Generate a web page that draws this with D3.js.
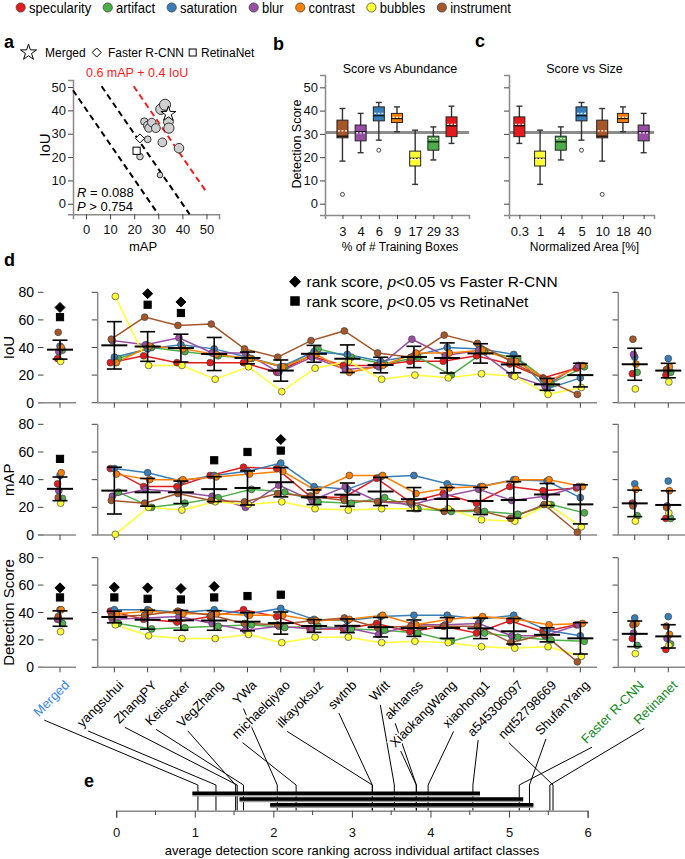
<!DOCTYPE html>
<html>
<head>
<meta charset="utf-8">
<script src="https://cdn.jsdelivr.net/npm/d3@7"></script>
<style>
  body { margin: 0; background: #fff; }
  svg { display: block; font-family: "Liberation Sans", Arial, Helvetica, sans-serif; }
</style>
</head>
<body>
<div id="chart"></div>
<script>
// ---------- data ----------
var classes = ["specularity", "artifact", "saturation", "blur", "contrast", "bubbles", "instrument"];
var classColors = ["#e41a1c", "#4daf4a", "#377eb8", "#984ea3", "#ff7f00", "#ffff33", "#a65628"];

var teams = ["yangsuhui", "ZhangPY", "Keisecker", "VegZhang", "YWa", "michaelqiyao", "ilkayoksuz",
  "swtnb", "Witt", "akhanss", "XiaokangWang", "xiaohong1", "a545306097", "nqt52798669", "ShufanYang"];
var baselines = ["Faster R-CNN", "Retinanet"];

// panel a: team mAP / IoU / detection score
var aMap   = [32.8, 31.1, 34.2, 34.4, 38.6, 31.7, 29.0, 27.3, 26.1, 24.2, 25.6, 25.6, 22.4, 30.7, 31.8];
var aIou   = [42.4, 40.5, 35.2, 32.4, 23.8, 26.3, 32.4, 34.8, 32.4, 35.2, 33.5, 27.6, 20.2, 12.3, 41.2];
var aScore = [36.7, 35.0, 33.3, 34.3, 32.3, 30.1, 30.3, 29.3, 28.7, 26.3, 28.6, 24.5, 23.7, 21.1, 34.6];
var aMerged = [34.2, 38.5];
var aFaster = [22.4, 28.0];
var aRetina = [21.0, 22.7];
var aLevels = [16.2, 24, 32];   // 0.6 mAP + 0.4 IoU = const

// panels b, c: detection score per class (same order as classes)
var abundanceLabels = ["3", "4", "6", "9", "17", "29", "33"];
var abundanceClass  = ["instrument", "blur", "saturation", "contrast", "bubbles", "artifact", "specularity"];
var sizeLabels = ["0.3", "1", "4", "5", "10", "18", "40"];
var sizeClass  = ["specularity", "bubbles", "artifact", "saturation", "instrument", "contrast", "blur"];
var boxLow  = [25.9, 18.8, 27.3, 21.9, 30.9, 8.3, 18.3];
var boxQ1   = [28.8, 23.0, 35.6, 27.0, 34.9, 16.2, 28.3];
var boxMed  = [33.5, 26.6, 37.8, 30.9, 36.6, 19.5, 29.0];
var boxQ3   = [37.3, 29.0, 41.6, 33.8, 38.8, 22.6, 35.9];
var boxHigh = [41.9, 33.0, 43.5, 38.8, 41.6, 31.6, 40.9];
var boxMean = [34.1, 28.0, 38.8, 30.4, 37.1, 19.2, 31.3];
var boxOut  = [[], [], [23], [], [], [], [4]];
var overallScore = 30.6;

// panel d: rows = classes, columns = teams
var iouVals = [
  [29, 34, 29, 29, 29, 22, 34, 27, 27, 30, 30, 34, 28, 18, 25],
  [32, 40, 37, 34, 32, 26, 39, 33, 28, 33, 20, 37, 32, 14, 26],
  [33, 39, 42, 39, 33, 26, 37, 35, 30, 34, 40, 39, 35, 10, 18],
  [45, 42, 47, 36, 36, 22, 33, 24, 26, 46, 34, 38, 20, 12, 27],
  [29, 41, 39, 35, 32, 26, 35, 22, 27, 36, 36, 38, 30, 16, 27],
  [77, 27, 27, 17, 26, 8, 25, 30, 17, 20, 18, 21, 19, 6, 11],
  [46, 62, 56, 57, 39, 33, 45, 52, 36, 33, 49, 43, 30, 17, 6]
];
var mapVals = [
  [48, 35, 35, 43, 49, 48, 28, 27, 41, 24, 30, 23, 35, 32, 34],
  [31, 20, 23, 27, 33, 31, 24, 23, 27, 19, 17, 17, 15, 22, 16],
  [48, 45, 39, 43, 46, 52, 35, 33, 42, 43, 37, 35, 40, 39, 27],
  [28, 33, 31, 28, 20, 36, 25, 35, 24, 22, 28, 33, 25, 28, 35],
  [44, 40, 40, 42, 44, 46, 32, 43, 43, 30, 34, 35, 40, 40, 35],
  [0.5, 20, 18, 24, 22, 24, 19, 18, 19, 19, 19, 11, 10, 22, 6],
  [25, 23, 30, 25, 24, 30, 28, 25, 24, 24, 17, 18, 12, 22, 2]
];
var scoreVals = [
  [41, 35, 33, 37, 42, 37, 28, 28, 32, 26, 30, 25, 34, 26, 31],
  [32, 28, 29, 30, 31, 29, 30, 28, 27, 25, 19, 25, 22, 20, 19],
  [42, 42, 40, 42, 39, 43, 35, 34, 37, 38, 38, 35, 38, 27, 23],
  [35, 36, 37, 32, 27, 30, 28, 29, 24, 31, 31, 32, 23, 23, 31],
  [39, 41, 39, 39, 38, 38, 34, 35, 38, 31, 35, 37, 35, 31, 32],
  [31, 23, 21, 21, 24, 18, 22, 22, 18, 19, 18, 15, 14, 15, 8],
  [37, 38, 41, 38, 32, 31, 34, 36, 29, 30, 30, 30, 18, 24, 4]
];
var iouMerged = [32, 38, 41, 37, 40, 30, 51];
var iouFaster = [21, 22, 33, 35, 28, 10, 46];
var iouRetina = [20, 22, 32, 24, 26, 15, 24];
var mapMerged = [37, 26.5, 43, 32, 45, 23, 27];
var mapFaster = [23, 14, 37, 22, 33, 10, 21];
var mapRetina = [12, 12, 39, 21, 32, 16, 20];
var scoreMerged = [35, 32, 42, 35, 42, 26, 37];
var scoreFaster = [21, 16, 36, 25, 32, 10, 31];
var scoreRetina = [13, 17, 37, 21, 24, 16, 30];

// rank-score significance markers (value = height drawn), index -1 = Merged
var iouVsFaster   = [[-1, 69], [1, 79], [2, 73]];
var iouVsRetina   = [[-1, 62], [1, 71], [2, 65]];
var mapVsFaster   = [[5, 69]];
var mapVsRetina   = [[-1, 55], [3, 54], [4, 60], [5, 61]];
var scoreVsFaster = [[-1, 58], [0, 58.5], [1, 58], [2, 57.5], [3, 59]];
var scoreVsRetina = [[-1, 51], [0, 51], [1, 50], [2, 49.5], [3, 51], [4, 52], [5, 53]];

// panel e: average ranking (Merged, teams..., baselines)
var eRanks = [1.04, 1.27, 1.54, 1.62, 1.52, 2.05, 2.29, 3.26, 3.26, 3.54, 3.82, 3.82, 3.97, 4.54, 5.56, 5.26, 5.13, 5.52];
var eBarStart = [0.97, 1.57, 1.96];
var eBarEnd   = [4.63, 5.18, 5.31];

// ---------- drawing ----------
var W = 685, H = 859;
var svg = d3.select("#chart").append("svg").attr("width", W).attr("height", H);
var axisGray = "#8a8a8a";

function styleAxis(g, fs) {
  g.select(".domain").attr("stroke", axisGray).attr("stroke-width", 1.5);
  g.selectAll(".tick line").attr("stroke", "#444");
  g.selectAll(".tick text").attr("fill", "#111").style("font-size", fs + "px")
    .style("font-family", '"Liberation Sans", Arial, sans-serif');
}

function panelLetter(t, x, y) {
  svg.append("text").attr("x", x).attr("y", y).text(t)
    .style("font-size", "18px").style("font-weight", "bold");
}

// top legend (slightly condensed type, as in the original figure)
var leg = svg.append("g");
var lx = 20.7, squeeze = 0.93;
classes.forEach(function(c, i) {
  leg.append("circle").attr("cx", lx).attr("cy", 7.5).attr("r", 4.6)
    .attr("fill", classColors[i]).attr("stroke", "#444").attr("stroke-width", 0.8);
  var t = leg.append("text").attr("transform", "translate(" + (lx + 8.3) + ",12.5) scale(" + squeeze + ",1)")
    .text(c).style("font-size", "14px");
  lx = lx + 8.3 + t.node().getComputedTextLength() * squeeze + 16.6;
});

// ---------- panel a ----------
panelLetter("a", 4, 48);
var ax = d3.scaleLinear().domain([-5.4, 55.2]).range([73, 219]);
var ay = d3.scaleLinear().domain([-4.5, 53]).range([214.3, 80]);
var ga = svg.append("g");
ga.append("g").attr("transform", "translate(0,214.3)")
  .call(d3.axisBottom(ax).tickValues([0, 10, 20, 30, 40, 50]).tickSizeOuter(0).tickSize(5).tickPadding(5))
  .call(styleAxis, 13);
ga.append("g").attr("transform", "translate(73,0)")
  .call(d3.axisLeft(ay).tickValues([0, 10, 20, 30, 40, 50]).tickSizeOuter(0).tickSize(5).tickPadding(2))
  .call(styleAxis, 13);
ga.append("text").attr("x", 143).attr("y", 251).attr("text-anchor", "middle").text("mAP").style("font-size", "13px");
ga.append("text").attr("transform", "translate(50,145) rotate(-90)").attr("text-anchor", "middle")
  .text("IoU").style("font-size", "15px");

function levelSegment(c) {
  var x0 = -5.4, x1 = 50, y0 = -4.5, y1 = 50.3, pts = [];
  [[x0, (c - 0.6 * x0) / 0.4], [x1, (c - 0.6 * x1) / 0.4],
   [(c - 0.4 * y0) / 0.6, y0], [(c - 0.4 * y1) / 0.6, y1]].forEach(function(p) {
    if (p[0] >= x0 - 1e-6 && p[0] <= x1 + 1e-6 && p[1] >= y0 - 1e-6 && p[1] <= y1 + 1e-6) pts.push(p);
  });
  pts.sort(function(a, b) { return a[0] - b[0]; });
  return [pts[0], pts[pts.length - 1]];
}
aLevels.forEach(function(c, i) {
  var s = levelSegment(c);
  ga.append("line").attr("x1", ax(s[0][0])).attr("y1", ay(s[0][1]))
    .attr("x2", ax(s[1][0])).attr("y2", ay(s[1][1]))
    .attr("stroke", i == 2 ? "#ff1a1a" : "#000").attr("stroke-width", 2).attr("stroke-dasharray", "6,4");
});
ga.append("text").attr("x", 86).attr("y", 77).text("0.6 mAP + 0.4 IoU")
  .attr("fill", "#ff1a1a").style("font-size", "12.5px");

var ar = d3.scaleLinear().domain([20, 37]).range([2.6, 5.6]);
var aIdx = d3.range(aMap.length).sort(function(a, b) { return aScore[a] - aScore[b]; });
ga.selectAll("circle.team").data(aIdx).enter().append("circle")
  .attr("cx", function(i) { return ax(aMap[i]); })
  .attr("cy", function(i) { return ay(aIou[i]); })
  .attr("r", function(i) { return ar(aScore[i]); })
  .attr("fill", "#cfcfcf").attr("stroke", "#333").attr("stroke-width", 1);

function star(g, size, x, y) {
  g.append("path").attr("d", d3.symbol().type(d3.symbolStar).size(size)())
    .attr("transform", "translate(" + x + "," + y + ")")
    .attr("fill", "#fff").attr("stroke", "#000").attr("stroke-width", 1);
}
function diamond(g, s, x, y, fill) {
  g.append("path").attr("d", "M0," + (-s) + "L" + s + ",0L0," + s + "L" + (-s) + ",0Z")
    .attr("transform", "translate(" + x + "," + y + ")")
    .attr("fill", fill).attr("stroke", "#000").attr("stroke-width", 1);
}
function square(g, s, x, y, fill) {
  g.append("rect").attr("x", x - s).attr("y", y - s).attr("width", 2 * s).attr("height", 2 * s)
    .attr("fill", fill).attr("stroke", "#000").attr("stroke-width", 1);
}
star(ga, 70, ax(aMerged[0]), ay(aMerged[1]));
diamond(ga, 4.5, ax(aFaster[0]), ay(aFaster[1]), "#fff");
square(ga, 3.6, ax(aRetina[0]), ay(aRetina[1]), "#fff");

ga.append("text").attr("x", 77).attr("y", 197).style("font-size", "13px")
  .html('<tspan font-style="italic">R</tspan> = 0.088');
ga.append("text").attr("x", 77).attr("y", 211).style("font-size", "13px")
  .html('<tspan font-style="italic">P</tspan> &gt; 0.754');

// panel a legend
star(ga, 80, 28.5, 52.5);
ga.append("text").attr("x", 45).attr("y", 57).text("Merged").style("font-size", "12px");
diamond(ga, 4.5, 96.7, 52.5, "#fff");
ga.append("text").attr("x", 108).attr("y", 57).text("Faster R-CNN").style("font-size", "12px");
square(ga, 3.5, 192.7, 52.5, "#fff");
ga.append("text").attr("x", 201).attr("y", 57).text("RetinaNet").style("font-size", "12px");

// ---------- panels b, c ----------
var by = d3.scaleLinear().domain([-4.85, 55.3]).range([215, 75]);

function boxPanel(x0, x1, pad, labels, cls, title, xtitle, showLabels) {
  var g = svg.append("g");
  var bx = d3.scalePoint().domain(labels).range([x0, x1]).padding(pad);
  g.append("g").attr("transform", "translate(0,215)")
    .call(d3.axisBottom(bx).tickSizeOuter(0).tickSize(4).tickPadding(8)).call(styleAxis, 13);
  var ya = g.append("g").attr("transform", "translate(" + x0 + ",0)")
    .call(d3.axisLeft(by).tickValues([0, 10, 20, 30, 40, 50]).tickSizeOuter(0).tickSize(5).tickPadding(2))
    .call(styleAxis, 13);
  if (!showLabels) ya.selectAll(".tick text").remove();
  g.append("line").attr("x1", x0).attr("x2", x1).attr("y1", by(overallScore)).attr("y2", by(overallScore))
    .attr("stroke", "#8c8c8c").attr("stroke-width", 3.2);
  labels.forEach(function(lab, j) {
    var k = classes.indexOf(cls[j]);
    var cx = bx(lab), hw = 5.5;
    g.append("line").attr("x1", cx).attr("x2", cx).attr("y1", by(boxLow[k])).attr("y2", by(boxHigh[k]))
      .attr("stroke", "#333").attr("stroke-width", 1.4);
    [boxLow[k], boxHigh[k]].forEach(function(v) {
      g.append("line").attr("x1", cx - 3).attr("x2", cx + 3).attr("y1", by(v)).attr("y2", by(v))
        .attr("stroke", "#333").attr("stroke-width", 1.4);
    });
    g.append("rect").attr("x", cx - hw).attr("width", 2 * hw)
      .attr("y", by(boxQ3[k])).attr("height", by(boxQ1[k]) - by(boxQ3[k]))
      .attr("fill", classColors[k]).attr("stroke", "#222").attr("stroke-width", 1);
    g.append("line").attr("x1", cx - hw).attr("x2", cx + hw).attr("y1", by(boxMed[k])).attr("y2", by(boxMed[k]))
      .attr("stroke", "#111").attr("stroke-width", 1.3);
    g.append("line").attr("x1", cx - hw + 1).attr("x2", cx + hw - 1).attr("y1", by(boxMean[k])).attr("y2", by(boxMean[k]))
      .attr("stroke", "#fff").attr("stroke-width", 1.3).attr("stroke-dasharray", "2,1.5");
    boxOut[k].forEach(function(v) {
      g.append("circle").attr("cx", cx).attr("cy", by(v)).attr("r", 2).attr("fill", "#fff")
        .attr("stroke", "#333").attr("stroke-width", 0.9);
    });
  });
  g.append("text").attr("x", (x0 + x1) / 2 + 3).attr("y", 73).attr("text-anchor", "middle")
    .text(title).style("font-size", "12.5px");
  g.append("text").attr("x", (x0 + x1) / 2 + 3).attr("y", 251).attr("text-anchor", "middle")
    .text(xtitle).style("font-size", "12px");
  return g;
}
panelLetter("b", 273, 50);
var gb = boxPanel(325, 469, 0.96, abundanceLabels, abundanceClass, "Score vs Abundance", "% of # Training Boxes", true);
gb.append("text").attr("transform", "translate(301,144) rotate(-90)").attr("text-anchor", "middle")
  .text("Detection Score").style("font-size", "12.5px");
panelLetter("c", 475, 47);
boxPanel(509, 654, 0.5, sizeLabels, sizeClass, "Score vs Size", "Normalized Area [%]", false);

// ---------- panel d ----------
panelLetter("d", 4, 266);
var dxMerged = d3.scalePoint().domain(["Merged"]).range([44, 76]).padding(0.5);
var dxTeams = d3.scalePoint().domain(teams).range([97.7, 597]).padding(0.5);
var dxBase = d3.scalePoint().domain(baselines).range([618, 685]).padding(0.5);
var jitter = [-4, 4, 0, -2, 2, 1, -3];

var rows = [
  { label: "IoU", top: 292.3, bottom: 402.7, vals: iouVals, merged: iouMerged, base: [iouFaster, iouRetina],
    vsF: iouVsFaster, vsR: iouVsRetina },
  { label: "mAP", top: 424.3, bottom: 535, vals: mapVals, merged: mapMerged, base: [mapFaster, mapRetina],
    vsF: mapVsFaster, vsR: mapVsRetina },
  { label: "Detection Score", top: 557.7, bottom: 667.3, vals: scoreVals, merged: scoreMerged, base: [scoreFaster, scoreRetina],
    vsF: scoreVsFaster, vsR: scoreVsRetina }
];

function errBar(g, x, vals, y) {
  var m = d3.mean(vals), sd = d3.deviation(vals);
  g.append("line").attr("x1", x).attr("x2", x).attr("y1", y(m - sd)).attr("y2", y(m + sd))
    .attr("stroke", "#000").attr("stroke-width", 1.6);
  [m - sd, m + sd].forEach(function(v) {
    g.append("line").attr("x1", x - 7.5).attr("x2", x + 7.5).attr("y1", y(v)).attr("y2", y(v))
      .attr("stroke", "#000").attr("stroke-width", 1.6);
  });
  g.append("line").attr("x1", x - 13).attr("x2", x + 13).attr("y1", y(m)).attr("y2", y(m))
    .attr("stroke", "#000").attr("stroke-width", 2);
}
function dot(g, x, y, k) {
  g.append("circle").attr("cx", x).attr("cy", y).attr("r", 3.4)
    .attr("fill", classColors[k]).attr("stroke", "#444").attr("stroke-width", 0.7);
}

rows.forEach(function(row) {
  var g = svg.append("g");
  var y = d3.scaleLinear().domain([0, 80]).range([row.bottom, row.top]);
  var ticks = [0, 20, 40, 60, 80];
  ticks.forEach(function(t) {
    g.append("line").attr("x1", 38).attr("x2", 43.5).attr("y1", y(t)).attr("y2", y(t)).attr("stroke", "#444");
    g.append("text").attr("x", 34).attr("y", y(t) + 5).attr("text-anchor", "end").text(t).style("font-size", "14px");
    g.append("line").attr("x1", 91.7).attr("x2", 97.7).attr("y1", y(t)).attr("y2", y(t)).attr("stroke", "#444");
    g.append("line").attr("x1", 612.5).attr("x2", 618.3).attr("y1", y(t)).attr("y2", y(t)).attr("stroke", "#444");
  });
  g.append("line").attr("x1", 38).attr("x2", 76).attr("y1", row.bottom).attr("y2", row.bottom)
    .attr("stroke", axisGray).attr("stroke-width", 1.5);
  g.append("path").attr("d", "M97.7," + row.top + "V" + row.bottom + "H597")
    .attr("fill", "none").attr("stroke", axisGray).attr("stroke-width", 1.5);
  g.append("path").attr("d", "M618.3," + row.top + "V" + row.bottom + "H685")
    .attr("fill", "none").attr("stroke", axisGray).attr("stroke-width", 1.5);
  [dxMerged("Merged")].concat(teams.map(dxTeams), baselines.map(dxBase)).forEach(function(x) {
    g.append("line").attr("x1", x).attr("x2", x).attr("y1", row.bottom).attr("y2", row.bottom + 5).attr("stroke", "#444");
  });
  g.append("text").attr("transform", "translate(" + 14 + "," + ((row.top + row.bottom) / 2) + ") rotate(-90)")
    .attr("text-anchor", "middle").text(row.label).style("font-size", "15px");

  row.vals.forEach(function(series, k) {
    var line = d3.line().x(function(v, j) { return dxTeams(teams[j]) + jitter[k]; }).y(function(v) { return y(v); });
    g.append("path").attr("d", line(series)).attr("fill", "none")
      .attr("stroke", classColors[k]).attr("stroke-width", 1.5);
  });
  row.vals.forEach(function(series, k) {
    series.forEach(function(v, j) { dot(g, dxTeams(teams[j]) + jitter[k], y(v), k); });
  });
  row.merged.forEach(function(v, k) { dot(g, dxMerged("Merged") + jitter[k] * 0.6, y(v), k); });
  row.base.forEach(function(vals, b) {
    vals.forEach(function(v, k) { dot(g, dxBase(baselines[b]) + jitter[k] * 0.6, y(v), k); });
  });

  errBar(g, dxMerged("Merged"), row.merged, y);
  teams.forEach(function(t, j) {
    errBar(g, dxTeams(t), row.vals.map(function(s) { return s[j]; }), y);
  });
  row.base.forEach(function(vals, b) { errBar(g, dxBase(baselines[b]), vals, y); });

  function mx(i) { return i < 0 ? dxMerged("Merged") : dxTeams(teams[i]); }
  row.vsF.forEach(function(p) { diamond(g, 5, mx(p[0]), y(p[1]), "#000"); });
  row.vsR.forEach(function(p) { square(g, 3.6, mx(p[0]), y(p[1]), "#000"); });
});

// panel d legend
var gl = svg.append("g");
diamond(gl, 5.5, 295, 281.7, "#000");
gl.append("text").attr("x", 306.5).attr("y", 287).style("font-size", "15.5px")
  .html('rank score, <tspan font-style="italic">p</tspan>&lt;0.05 vs Faster R-CNN');
square(gl, 4.2, 295, 301, "#000");
gl.append("text").attr("x", 306.5).attr("y", 306.5).style("font-size", "15.5px")
  .html('rank score, <tspan font-style="italic">p</tspan>&lt;0.05 vs RetinaNet');

// ---------- panel e ----------
panelLetter("e", 84, 787);
var ex = d3.scaleLinear().domain([0, 6]).range([116.2, 587.6]);
var ge = svg.append("g");
ge.append("g").attr("transform", "translate(0,810.7)")
  .call(d3.axisBottom(ex).tickValues([0, 1, 2, 3, 4, 5, 6]).tickFormat(d3.format("d"))
    .tickSizeOuter(0).tickSize(7).tickPadding(10))
  .call(styleAxis, 13);
ge.selectAll(null).data([0.5, 1.5, 2.5, 3.5, 4.5, 5.5]).enter().append("line")
  .attr("x1", function(d) { return ex(d); }).attr("x2", function(d) { return ex(d); })
  .attr("y1", 810.7).attr("y2", 815).attr("stroke", "#444");
ge.append("text").attr("x", 352).attr("y", 855).attr("text-anchor", "middle")
  .text("average detection score ranking across individual artifact classes").style("font-size", "13px");

var eNames = ["Merged"].concat(teams, baselines);
var eXs = [dxMerged("Merged")].concat(teams.map(dxTeams), baselines.map(dxBase));
var labelG = svg.append("g");
var lineG = svg.append("g");
eNames.forEach(function(name, i) {
  var exEnd = eXs[i] + 10, eyEnd = 686;
  var t = labelG.append("text").attr("transform", "translate(" + exEnd + "," + eyEnd + ") rotate(-45)")
    .attr("text-anchor", "end").text(name).style("font-size", "13px")
    .attr("fill", i == 0 ? "#3a87e6" : (i > 15 ? "#12891a" : "#000"))
    .attr("stroke", "#fff").attr("stroke-width", 3).attr("paint-order", "stroke");
  var L = t.node().getComputedTextLength();
  var sx = exEnd - L * Math.SQRT1_2 + 5.5, sy = eyEnd + L * Math.SQRT1_2 + 3;
  var rx = ex(eRanks[i]);
  lineG.append("path").attr("d", "M" + sx + "," + sy + "L" + rx + ",785V810.7")
    .attr("fill", "none").attr("stroke", "#000").attr("stroke-width", 1);
});
labelG.raise();

eBarStart.forEach(function(s, i) {
  var yb = 793.3 + i * 5.7;
  ge.append("line").attr("x1", ex(s)).attr("x2", ex(eBarEnd[i])).attr("y1", yb + 1).attr("y2", yb + 1)
    .attr("stroke", "#9a9a9a").attr("stroke-width", 4.5);
  ge.append("line").attr("x1", ex(s)).attr("x2", ex(eBarEnd[i])).attr("y1", yb).attr("y2", yb)
    .attr("stroke", "#000").attr("stroke-width", 3.6);
});
ge.raise();
</script>
</body>
</html>
